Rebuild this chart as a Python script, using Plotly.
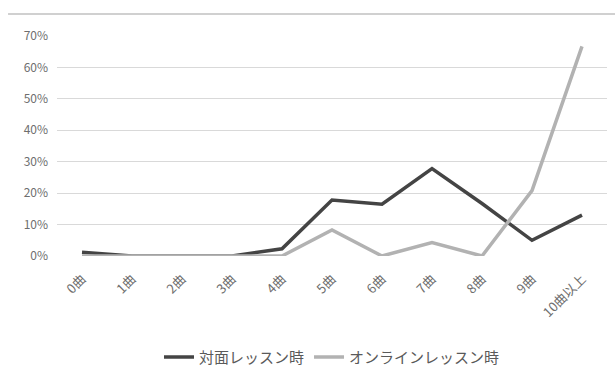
import plotly.graph_objects as go

categories = ["0曲", "1曲", "2曲", "3曲", "4曲", "5曲", "6曲", "7曲", "8曲", "9曲", "10曲以上"]
face_to_face = [0.012, 0.0, 0.0, 0.0, 0.023, 0.178, 0.165, 0.278, 0.167, 0.05, 0.13]
online = [0.0, 0.0, 0.0, 0.0, 0.0, 0.083, 0.0, 0.043, 0.0, 0.208, 0.667]
series_names = ["対面レッスン時", "オンラインレッスン時"]
y_ticks = [0, 0.1, 0.2, 0.3, 0.4, 0.5, 0.6, 0.7]
y_tick_labels = ["0%", "10%", "20%", "30%", "40%", "50%", "60%", "70%"]

font_family = "Noto Sans CJK JP, Noto Sans, sans-serif"
text_color = "#6e6e6e"

fig = go.Figure()
fig.add_trace(go.Scatter(x=categories, y=face_to_face, mode="lines", name=series_names[0],
                         line=dict(color="#444444", width=3.5)))
fig.add_trace(go.Scatter(x=categories, y=online, mode="lines", name=series_names[1],
                         line=dict(color="#b2b2b2", width=3.5)))

fig.update_layout(
    width=615, height=369,
    margin=dict(l=57, r=8, t=36, b=113, autoexpand=False),
    paper_bgcolor="white", plot_bgcolor="white",
    font=dict(family=font_family, color=text_color, size=11),
    showlegend=True,
    legend=dict(orientation="h", x=0.5, xanchor="center", y=-0.46, yanchor="middle",
                font=dict(size=15, color="#5a5a5a"), tracegroupgap=0),
    xaxis=dict(type="category", range=[-0.5, 10.5], showgrid=False, showline=False, zeroline=False,
               tickangle=-45, ticks="", ticklabelstandoff=12, automargin=False,
               tickfont=dict(size=13, color=text_color)),
    yaxis=dict(range=[0, 0.7], tickvals=y_ticks, ticktext=y_tick_labels, automargin=False,
               showgrid=True, gridcolor="#d9d9d9", gridwidth=1.2, zeroline=False,
               showline=False, ticks="", ticklabelstandoff=8, tickfont=dict(size=12, color=text_color)),
    shapes=[dict(type="line", xref="paper", yref="paper",
                 x0=-0.089, x1=1.02, y0=1.1, y1=1.1,
                 line=dict(color="#d0d0d0", width=2))],
)

fig.write_html("out.html")
